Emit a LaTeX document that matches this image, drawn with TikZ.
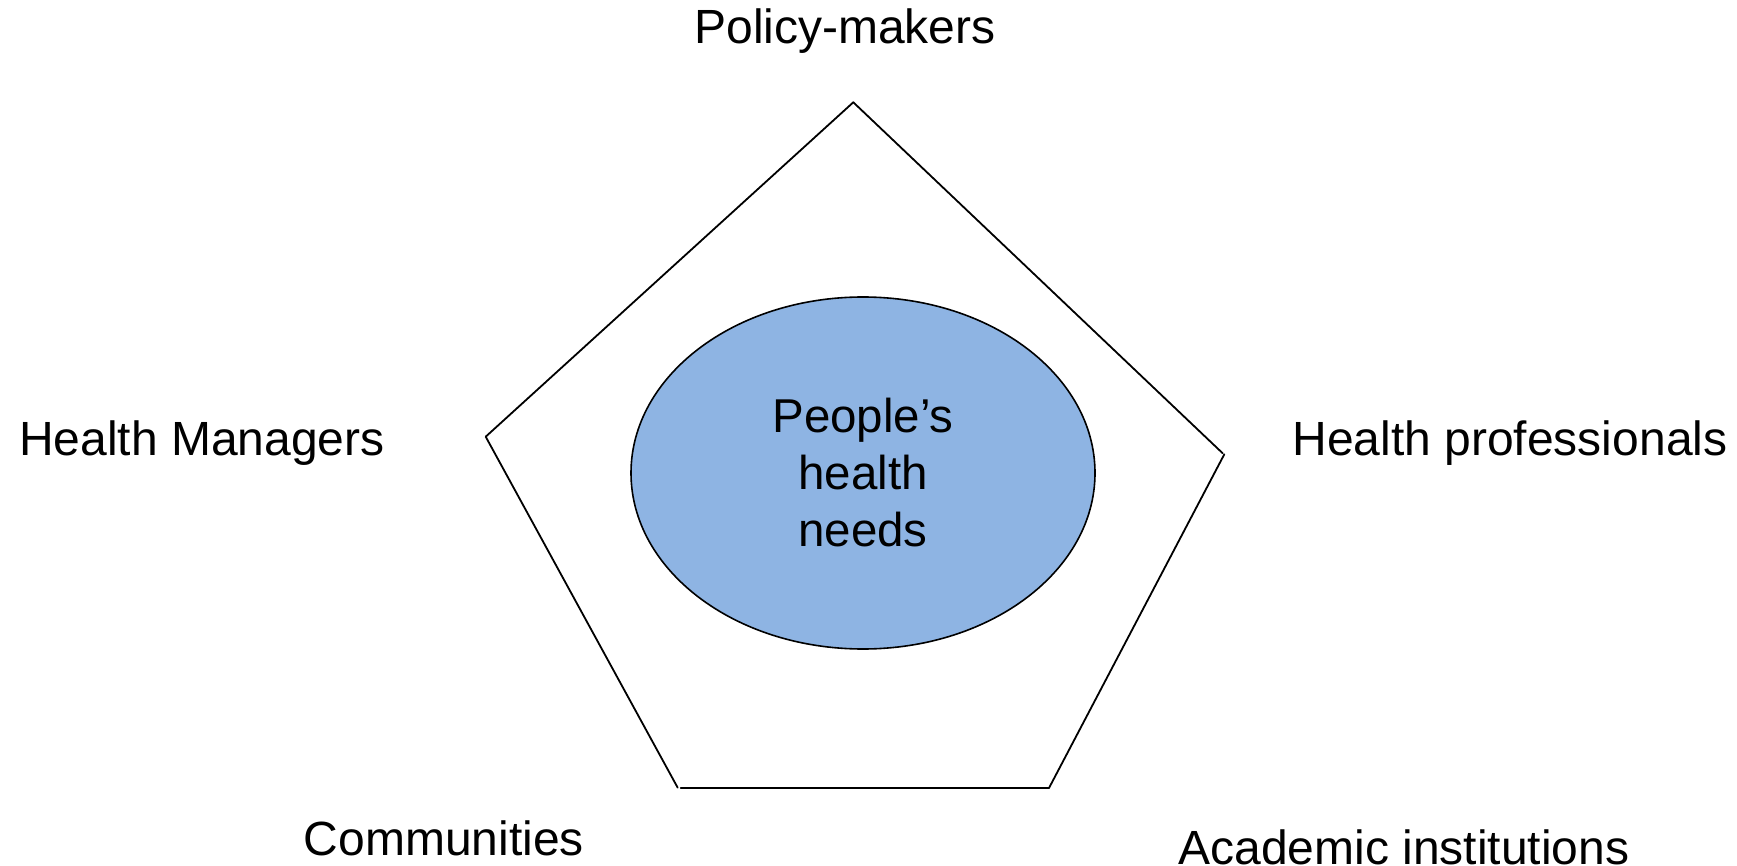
\documentclass[tikz,border=0pt]{standalone}
\usepackage{fontspec}
\setmainfont{Liberation Sans}
\usetikzlibrary{shapes.geometric}
\definecolor{needsblue}{RGB}{142,180,227}
\tikzset{
  lbl/.style={anchor=base, inner sep=0pt, font=\fontsize{48}{57}\selectfont},
  edge/.style={draw=black, line width=1.8pt, line cap=round},
  core/.style={ellipse, draw=black, line width=1.6pt, fill=needsblue,
    minimum width=464pt, minimum height=352pt, inner sep=0pt,
    align=center, font=\fontsize{47.5}{57}\selectfont}
}
\begin{document}
\begin{tikzpicture}[x=1pt,y=-1pt]
\useasboundingbox (0,0) rectangle (1737,866);
% pentagon corners
\coordinate (top) at (853.3,102.3);
\coordinate (lft) at (485.7,436.7);
\coordinate (bl) at (677.7,787.7);
\coordinate (bls) at (680.7,788);
\coordinate (br) at (1049,788);
\coordinate (rtl) at (1224.3,454.3);
\coordinate (rtu) at (1222.7,453.3);
\draw[edge] (top) -- (lft);
\draw[edge] (lft) -- (bl);
\draw[edge] (bls) -- (br);
\draw[edge] (br) -- (rtl);
\draw[edge] (rtu) -- (top);
% centre
\node[core] (needs) at (863,473) {People’s\\health\\needs};
% labels
\node[lbl] (policy) at (845,44) {Policy-makers};
\node[lbl] (managers) at (202,455) {Health Managers};
\node[lbl] (profs) at (1510,455) {Health professionals};
\node[lbl] (comm) at (444,855) {Communities};
\node[lbl] (acad) at (1404,864) {Academic institutions};
\end{tikzpicture}
\end{document}
